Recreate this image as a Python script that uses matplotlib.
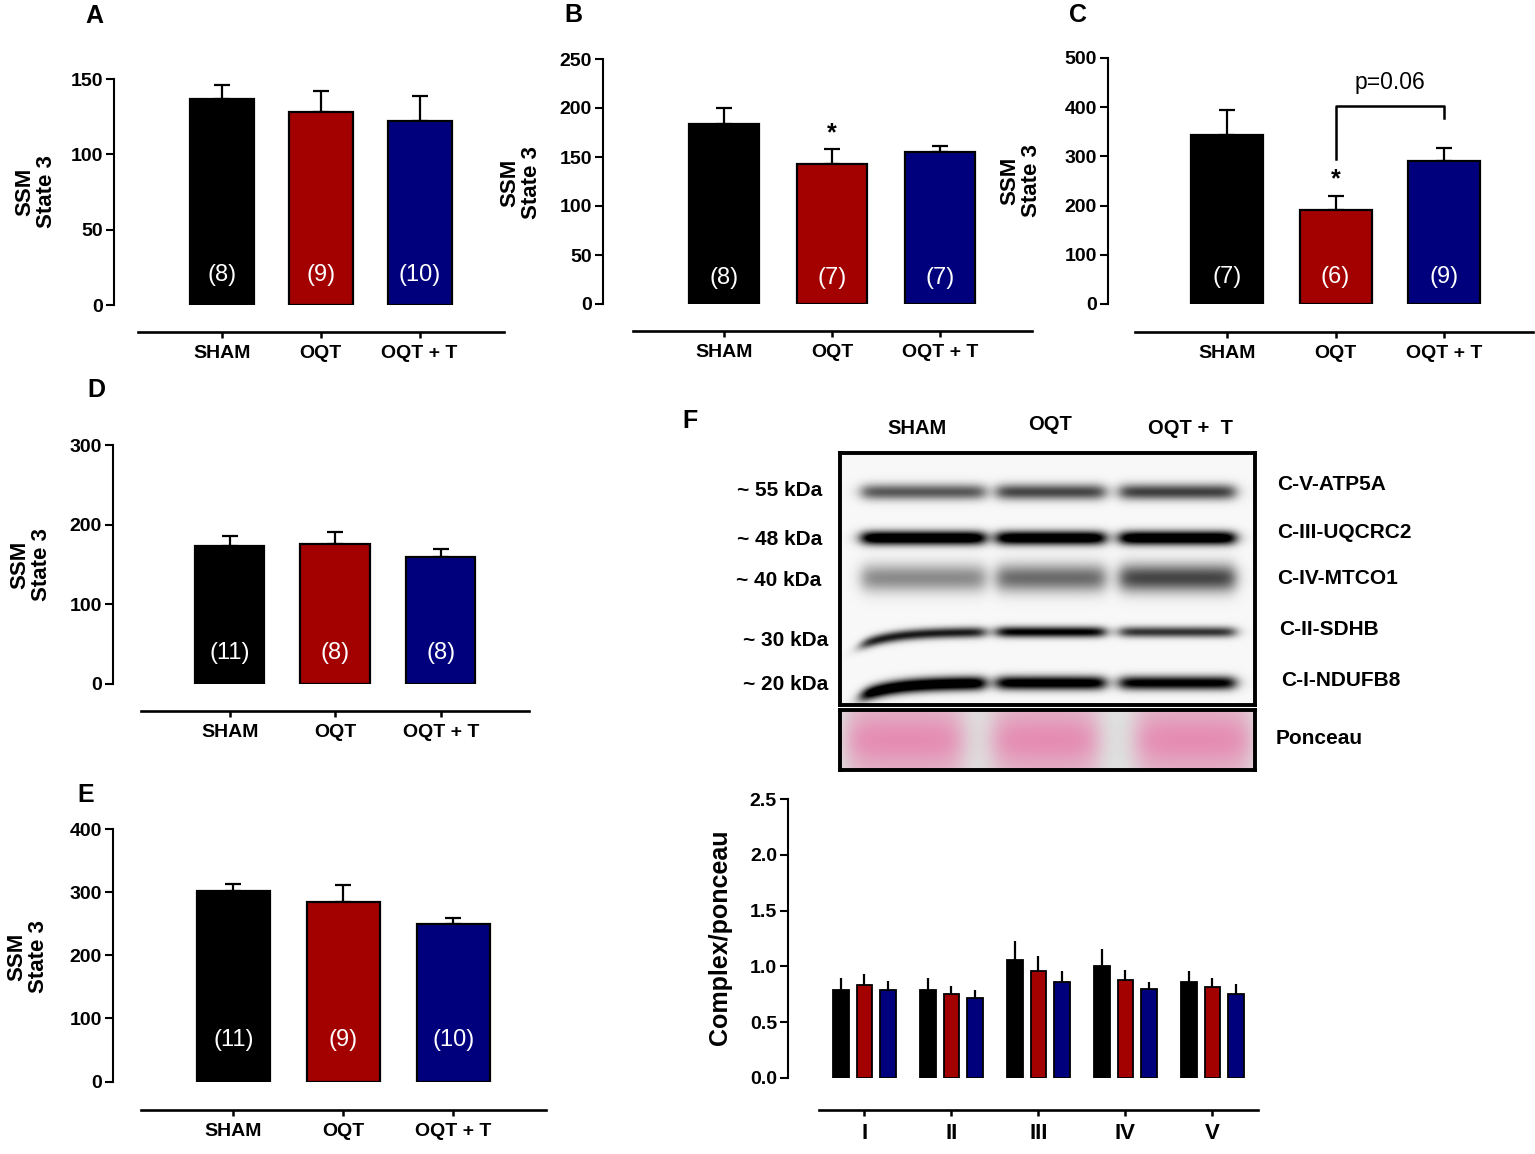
import numpy as np
import matplotlib.pyplot as plt
from matplotlib import font_manager
from matplotlib.transforms import blended_transform_factory

W, H = 1535, 1154

names = {f.name for f in font_manager.fontManager.ttflist}
BASE = 'Liberation Sans' if 'Liberation Sans' in names else 'DejaVu Sans'
NARROW = 'Liberation Sans Narrow' if 'Liberation Sans Narrow' in names else BASE
plt.rcParams['font.family'] = [BASE, 'DejaVu Sans']

groups = ['SHAM', 'OQT', 'OQT + T']
colors = ['#000000', '#a30000', '#00007d']

# panels A-E : mean, SEM (upper), n
a_mean = [137, 128, 122]
a_err = [9, 14, 16.5]
a_n = ['(8)', '(9)', '(10)']

b_mean = [184, 142.5, 155]
b_err = [16.5, 15.5, 6.5]
b_n = ['(8)', '(7)', '(7)']

c_mean = [344, 191, 291]
c_err = [50, 29, 26]
c_n = ['(7)', '(6)', '(9)']

d_mean = [173.5, 175.5, 160]
d_err = [12, 15, 9]
d_n = ['(11)', '(8)', '(8)']

e_mean = [302, 285, 249]
e_err = [10.5, 26, 10]
e_n = ['(11)', '(9)', '(10)']

# panel F : densitometry
complexes = ['I', 'II', 'III', 'IV', 'V']
f_sham = [0.785, 0.785, 1.06, 1.00, 0.86]
f_sham_err = [0.115, 0.115, 0.17, 0.155, 0.10]
f_oqt = [0.83, 0.755, 0.955, 0.875, 0.815]
f_oqt_err = [0.10, 0.065, 0.135, 0.095, 0.08]
f_oqtt = [0.785, 0.72, 0.86, 0.80, 0.75]
f_oqtt_err = [0.085, 0.07, 0.10, 0.06, 0.095]

# western blot
blot_lanes = ['SHAM', 'OQT', 'OQT +  T']
band_names = ['C-V-ATP5A', 'C-III-UQCRC2', 'C-IV-MTCO1', 'C-II-SDHB', 'C-I-NDUFB8']
band_kda = ['~ 55 kDa', '~ 48 kDa', '~ 40 kDa', '~ 30 kDa', '~ 20 kDa']
band_strength = [
    [0.50, 0.56, 0.58],
    [1.00, 0.98, 1.00],
    [0.34, 0.44, 0.56],
    [0.70, 0.80, 0.62],
    [1.00, 0.90, 0.84],
]

fig = plt.figure(figsize=(W / 100, H / 100), dpi=100)


def px_axes(x0, x1, ytop, ybot):
    return fig.add_axes([x0 / W, 1 - ybot / H, (x1 - x0) / W, (ybot - ytop) / H])


def style_axes(ax, ybot, yline, xl0, xl1, c0, step, ymax, yticks, ylabsize=14, xlabsize=14):
    ax.spines[['top', 'right']].set_visible(False)
    ax.spines['left'].set_linewidth(1.5)
    ax.spines['left'].set_bounds(0, ymax)
    ax.spines['bottom'].set_linewidth(1.9)
    ax.spines['bottom'].set_position(('outward', (yline - ybot) * 0.72))
    ax.spines['bottom'].set_bounds((xl0 - c0) / step, (xl1 - c0) / step)
    ax.set_ylim(0, ymax)
    ax.set_yticks(yticks)
    ax.tick_params(axis='y', length=6, width=1.5, labelsize=ylabsize, pad=2)
    ax.tick_params(axis='x', length=4.5, width=1.8, labelsize=xlabsize, pad=5)
    for lab in ax.get_yticklabels() + ax.get_xticklabels():
        lab.set_fontweight('bold')
    ax.patch.set_alpha(0)


def bar_panel(lay, means, errs, ns, ymax, yticks, nfrac):
    yax, c0, step, bw, ytop, ybot, xl0, xl1, yline = lay
    ax = px_axes(yax, xl1, ytop, ybot)
    x = np.arange(len(means))
    ax.errorbar(x, means, yerr=[np.zeros(len(errs)), errs], fmt='none', ecolor='black',
                elinewidth=1.6, capsize=6, capthick=1.6, zorder=1, clip_on=False)
    ax.bar(x, means, width=bw / step, color=colors, edgecolor='black', linewidth=1.6, zorder=2)
    ax.set_xlim((yax - c0) / step, (xl1 - c0) / step)
    ax.set_xticks(x, groups)
    style_axes(ax, ybot, yline, xl0, xl1, c0, step, ymax, yticks)
    tr = blended_transform_factory(ax.transData, ax.transAxes)
    for i, n in enumerate(ns):
        ax.text(i, nfrac, n, transform=tr, ha='center', va='center', color='white', fontsize=17)
    return ax


def ylab(x, y, size=16):
    fig.text(x / W, 1 - y / H, 'SSM\nState 3', rotation=90, ha='center', va='center',
             fontsize=size, fontweight='bold', linespacing=1.05, multialignment='center')


def letter(x, y, s):
    fig.text(x / W, 1 - y / H, s, ha='center', va='center', fontsize=18, fontweight='bold')


# layout: y-axis px, first bar centre, bar step, bar width, top px, base px, line x0, line x1, line y
axA = bar_panel((114, 222, 98.75, 64, 79, 305, 138, 504, 332), a_mean, a_err, a_n,
                150, [0, 50, 100, 150], 0.133)
axB = bar_panel((603, 724, 108, 70, 59, 304, 633, 1032, 331), b_mean, b_err, b_n,
                250, [0, 50, 100, 150, 200, 250], 0.106)
axC = bar_panel((1108, 1227, 108.5, 72, 58, 304, 1135, 1533, 332), c_mean, c_err, c_n,
                500, [0, 100, 200, 300, 400, 500], 0.111)
axD = bar_panel((113, 229.7, 105.5, 69.5, 445, 684, 141, 529, 711), d_mean, d_err, d_n,
                300, [0, 100, 200, 300], 0.13)
axE = bar_panel((113, 233.3, 110, 73, 829, 1081.5, 141, 546, 1110), e_mean, e_err, e_n,
                400, [0, 100, 200, 300, 400], 0.164)

for (x, y) in [(36, 192), (521, 183), (1021, 181), (31, 565), (28, 957)]:
    ylab(x, y)

# significance marks
axB.text(1, b_mean[1] + b_err[1] + 16, '*', ha='center', va='center', fontsize=18, fontweight='bold')
axC.text(1, c_mean[1] + c_err[1] + 33, '*', ha='center', va='center', fontsize=18, fontweight='bold')
axC.plot([1, 1, 2, 2], [294, 402, 402, 378], color='black', lw=1.8, clip_on=False)
axC.text(1.5, 450, 'p=0.06', ha='center', va='center', fontsize=16.5)

# panel F bar chart
f_yax, f_c0, f_step = 788, 864.3, 87.0
axF = px_axes(f_yax, 1258, 799, 1078)
xc = np.arange(len(complexes))
off = 23.5 / f_step
bw = 15.5 / f_step
for k, (m, e) in enumerate([(f_sham, f_sham_err), (f_oqt, f_oqt_err), (f_oqtt, f_oqtt_err)]):
    xs = xc + (k - 1) * off
    axF.errorbar(xs, m, yerr=[np.zeros(len(e)), e], fmt='none', ecolor='black',
                 elinewidth=1.6, capsize=0, zorder=1)
    axF.bar(xs, m, width=bw, color=colors[k], edgecolor='black', linewidth=1.3, zorder=2)
axF.set_xlim((f_yax - f_c0) / f_step, (1258 - f_c0) / f_step)
axF.set_xticks(xc, complexes)
axF.yaxis.set_major_formatter(plt.FormatStrFormatter('%.1f'))
style_axes(axF, 1078, 1110, 819, 1258, f_c0, f_step, 2.5, [0, 0.5, 1.0, 1.5, 2.0, 2.5],
           ylabsize=14, xlabsize=16)
fig.text(720 / W, 1 - 937 / H, 'Complex/ponceau', rotation=90, ha='center', va='center',
         fontsize=18, fontweight='bold')

# western blot image
bx0, bx1, by0, by1 = 840, 1255, 453, 705
axBlot = px_axes(bx0, bx1, by0, by1)
gw, gh = bx1 - bx0, by1 - by0
gx, gy = np.meshgrid(np.arange(gw) + 0.5, np.arange(gh) + 0.5)
lane_edges = [(22, 145), (157, 265), (280, 395)]
band_rows = [39, 85, 125, 179, 230]
band_sigma = [8.0, 7.0, 14.0, 5.5, 7.0]


def lane_profile(x, lo, hi, soft=4.0):
    return 1 / (1 + np.exp(-(x - lo) / soft)) * 1 / (1 + np.exp((x - hi) / soft))


dark = np.zeros_like(gx)
for r, (yc, sg) in enumerate(zip(band_rows, band_sigma)):
    for li, (lo, hi) in enumerate(lane_edges):
        yshift = 0.0
        if li == 0 and r >= 3:
            yshift = 13 * np.exp(-(gx - lo) / 32.0)
        dark += 1.25 * band_strength[r][li] * lane_profile(gx, lo, hi) * \
            np.exp(-((gy - yc - yshift) / sg) ** 2)
img = 0.97 - np.clip(dark, 0, 0.97)
axBlot.imshow(img, cmap='gray', vmin=0, vmax=1, aspect='auto', interpolation='bilinear')
axBlot.set_xticks([])
axBlot.set_yticks([])
for sp in axBlot.spines.values():
    sp.set_linewidth(2.8)

# ponceau strip
py0, py1 = 710, 770
axPon = px_axes(bx0, bx1, py0, py1)
ph = py1 - py0
px_, py_ = np.meshgrid(np.arange(gw) + 0.5, np.arange(ph) + 0.5)
pon_edges = [(7, 123), (153, 258), (296, 411)]
w = np.zeros_like(px_)
for lo, hi in pon_edges:
    w += lane_profile(px_, lo, hi, soft=7.0)
w *= 0.55 + 0.45 * np.exp(-((py_ - ph / 2) / (ph / 2.6)) ** 2)
bg = np.array([0.87, 0.91, 0.89])
pink = np.array([0.90, 0.55, 0.70])
rgb = bg[None, None, :] * (1 - w[..., None]) + pink[None, None, :] * w[..., None]
axPon.imshow(rgb, aspect='auto', interpolation='bilinear')
axPon.set_xticks([])
axPon.set_yticks([])
for sp in axPon.spines.values():
    sp.set_linewidth(2.8)

for s, x, y in zip(blot_lanes, [917, 1050, 1190], [428, 425, 428]):
    fig.text(x / W, 1 - y / H, s, ha='center', va='center', fontsize=14.5, fontweight='bold',
             family=NARROW)
for s, y, xr in zip(band_kda, [491, 539, 581, 640, 684], [822, 822, 821, 828, 828]):
    fig.text(xr / W, 1 - y / H, s, ha='right', va='center', fontsize=15, fontweight='bold',
             family=NARROW)
for s, y, xl in zip(band_names + ['Ponceau'], [485, 532, 578, 630, 680, 738],
                    [1277, 1277, 1277, 1279, 1281, 1276]):
    fig.text(xl / W, 1 - y / H, s, ha='left', va='center', fontsize=15, fontweight='bold',
             family=NARROW)

for s, x, y in [('A', 94, 16), ('B', 573, 15), ('C', 1078, 15), ('D', 96, 390),
                ('E', 86, 795), ('F', 690, 421)]:
    letter(x, y, s)

plt.savefig('out.png', dpi=100)
